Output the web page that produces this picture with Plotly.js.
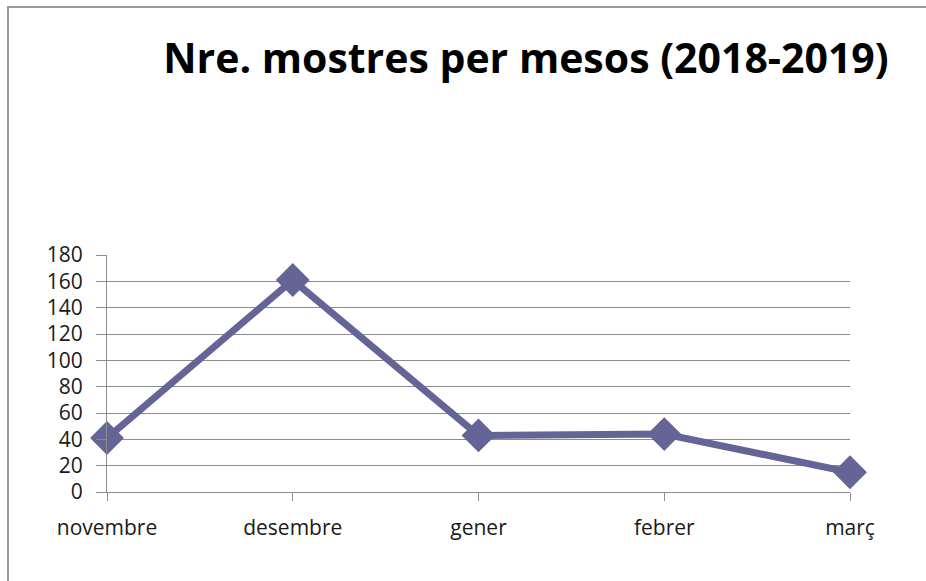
<!DOCTYPE html>
<html>
<head>
<meta charset="utf-8">
<script src="https://cdn.plot.ly/plotly-3.0.1.min.js"></script>
<style>
html,body{margin:0;padding:0;background:#fff;}
#frame{position:absolute;left:7px;top:6px;width:940px;height:600px;border-left:2px solid #9a9a9a;border-top:2px solid #9a9a9a;}
#chart{position:absolute;left:0;top:0;width:926px;height:581px;}
</style>
</head>
<body>
<div id="frame"></div>
<div id="chart"></div>
<script>
const months = ["novembre", "desembre", "gener", "febrer", "març"];
const samples = [41, 161, 43, 44, 15];
const yTicks = [0, 20, 40, 60, 80, 100, 120, 140, 160, 180];

const trace = {
  x: months,
  y: samples,
  type: "scatter",
  mode: "lines+markers",
  line: {color: "#646496", width: 7},
  marker: {symbol: "diamond", size: 26, color: "#646496"},
  cliponaxis: false,
  hoverinfo: "x+y"
};

const layout = {
  width: 926,
  height: 581,
  margin: {l: 107, r: 76, t: 255, b: 89},
  paper_bgcolor: "rgba(0,0,0,0)",
  plot_bgcolor: "rgba(0,0,0,0)",
  showlegend: false,
  title: {
    text: "<b>Nre. mostres per mesos (2018-2019)</b>",
    font: {family: "Open Sans, sans-serif", size: 41, color: "#000"},
    x: 0.568, xanchor: "center",
    y: 0.8985, yanchor: "middle"
  },
  xaxis: {
    type: "category",
    range: [0, 4],
    showgrid: false,
    showline: true, linecolor: "#8c8c8c", linewidth: 1,
    ticks: "outside", ticklen: 8, tickcolor: "#8c8c8c",
    ticklabelstandoff: 9,
    tickfont: {family: "Open Sans, sans-serif", size: 21, color: "#1a1a1a"},
    zeroline: false,
    fixedrange: true
  },
  yaxis: {
    range: [0, 180],
    tickvals: yTicks,
    ticktext: yTicks.map(String),
    showgrid: true, gridcolor: "#8c8c8c", gridwidth: 1,
    showline: true, linecolor: "#8c8c8c", linewidth: 1,
    ticks: "outside", ticklen: 10, tickcolor: "#8c8c8c",
    ticklabelstandoff: 9,
    tickfont: {family: "Open Sans, sans-serif", size: 21, color: "#1a1a1a"},
    zeroline: false,
    fixedrange: true
  }
};

Plotly.newPlot("chart", [trace], layout, {displayModeBar: false, staticPlot: true});
</script>
</body>
</html>
